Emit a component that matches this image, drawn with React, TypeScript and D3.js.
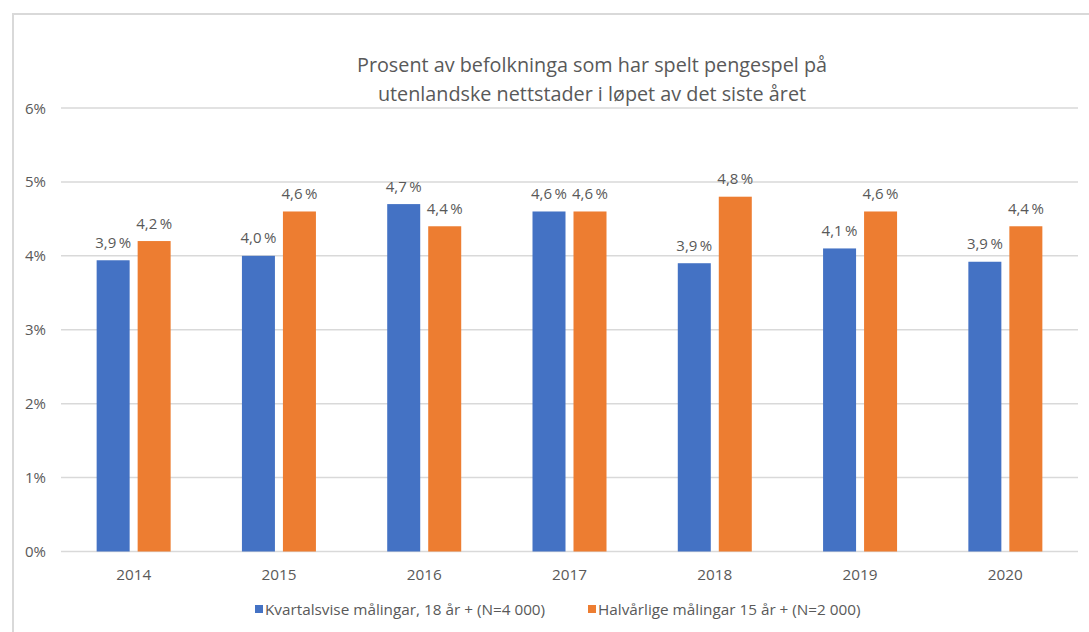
import React from "react";
import * as d3 from "d3";

const years = ["2014", "2015", "2016", "2017", "2018", "2019", "2020"];
const kvartal = [3.94, 4.0, 4.7, 4.6, 3.9, 4.1, 3.92];
const halvar = [4.2, 4.6, 4.4, 4.6, 4.8, 4.6, 4.4];
const yTicks = [0, 1, 2, 3, 4, 5, 6];
const seriesNames = ["Kvartalsvise målingar, 18 år + (N=4 000)", "Halvårlige målingar 15 år + (N=2 000)"];
const titleLines = ["Prosent av befolkninga som har spelt pengespel på", "utenlandske nettstader i løpet av det siste året"];

const W = 1089, H = 632;
const BLUE = "#4472c4", ORANGE = "#ed7d31", TXT = "#595959", GRID = "#d9d9d9";
const FONT = "'Open Sans', 'Noto Sans', sans-serif";

export default function App() {
  const x = d3.scaleBand().domain(years).range([61, 1078]);
  const y = d3.scaleLinear().domain([0, 6]).range([551.5, 108]);
  const barW = 33, gap = 8;
  const fmt = (v: number) => d3.format(".1f")(v).replace(".", ",") + "\u2009%";
  const series = [
    { vals: kvartal, color: BLUE, off: -gap / 2 - barW },
    { vals: halvar, color: ORANGE, off: gap / 2 },
  ];
  return (
    <svg width={W} height={H} style={{ position: "absolute", left: 0, top: 0, background: "#fff" }} fontFamily={FONT}>
      <rect x={0} y={0} width={W} height={H} fill="#fff" />
      <path d={`M13,${H} V14 H${W}`} fill="none" stroke={GRID} strokeWidth={2} />
      {titleLines.map((t, i) => (
        <text key={i} x={592} y={72 + i * 29} textAnchor="middle" fontSize={19.8} fill={TXT}>{t}</text>
      ))}
      {yTicks.map((t) => (
        <g key={t}>
          <line x1={61} x2={1078} y1={y(t)} y2={y(t)} stroke={GRID} strokeWidth={1.5} />
          <text x={46} y={y(t) + 5.5} textAnchor="end" fontSize={15} fill={TXT}>{t + "%"}</text>
        </g>
      ))}
      {years.map((yr, i) => {
        const cx = (x(yr) as number) + x.bandwidth() / 2;
        return (
          <g key={yr}>
            {series.map((s, j) => (
              <g key={j}>
                <rect x={cx + s.off} y={y(s.vals[i])} width={barW} height={y(0) - y(s.vals[i])} fill={s.color} />
                <text x={cx + s.off + barW / 2} y={y(s.vals[i]) - 12.5} textAnchor="middle" fontSize={15} fill={TXT}>{fmt(s.vals[i])}</text>
              </g>
            ))}
            <text x={cx} y={580} textAnchor="middle" fontSize={15.3} fill={TXT}>{yr}</text>
          </g>
        );
      })}
      {seriesNames.map((n, i) => {
        const lx = i === 0 ? 255 : 588;
        return (
          <g key={n}>
            <rect x={lx} y={605} width={8} height={8} fill={i === 0 ? BLUE : ORANGE} />
            <text x={lx + 10} y={615} fontSize={15.3} fill={TXT}>{n}</text>
          </g>
        );
      })}
    </svg>
  );
}
